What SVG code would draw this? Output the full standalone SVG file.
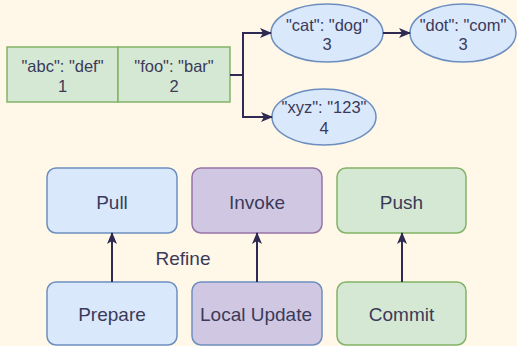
<svg xmlns="http://www.w3.org/2000/svg" width="517" height="346" viewBox="0 0 517 346">
<defs>
<style>
text{font-family:"Liberation Sans",Arial,sans-serif;fill:#3b3a5a;text-anchor:middle}
.s{font-size:16.5px}
.b{font-size:19px}
.blue{fill:#dae8fc;stroke:#6c8ebf;stroke-width:1.5}
.purp{fill:#d0c8e2;stroke:#9673a6;stroke-width:1.5}
.purpb{fill:#d0c8e2;stroke:#6c8ebf;stroke-width:1.5}
.green{fill:#d5e8d4;stroke:#82b366;stroke-width:1.5}
.c{fill:none;stroke:#2e2a52;stroke-width:2}
</style>
<marker id="ah" viewBox="0 0 12 10" refX="11" refY="5" markerWidth="12" markerHeight="10" markerUnits="userSpaceOnUse" orient="auto">
<path d="M0,0 L12,5 L0,10 L3,5 Z" fill="#2e2a52"/>
</marker>
</defs>
<rect width="517" height="346" fill="#fff7e8"/>
<g id="table">
<rect x="7" y="47" width="111" height="55" fill="#d5e8d4" stroke="#82b366" stroke-width="1.5"/>
<rect x="118" y="47" width="112" height="55" fill="#d5e8d4" stroke="#82b366" stroke-width="1.5"/>
<text class="s" x="62.5" y="72">"abc": "def"</text>
<text class="s" x="62.5" y="92">1</text>
<text class="s" x="174" y="72">"foo": "bar"</text>
<text class="s" x="174" y="92">2</text>
</g>
<g id="cat">
<ellipse cx="327" cy="33" rx="56" ry="29" class="blue"/>
<text class="s" x="327" y="31">"cat": "dog"</text>
<text class="s" x="327" y="50">3</text>
</g>
<g id="dot">
<ellipse cx="463" cy="33" rx="53" ry="29" class="blue"/>
<text class="s" x="463" y="31">"dot": "com"</text>
<text class="s" x="463" y="50">3</text>
</g>
<g id="xyz">
<ellipse cx="324" cy="117" rx="52" ry="28" class="blue"/>
<text class="s" x="324" y="113">"xyz": "123"</text>
<text class="s" x="324" y="134">4</text>
</g>
<g id="pull">
<rect x="47" y="168" width="130" height="65" rx="9" class="blue"/>
<text class="b" x="112" y="209">Pull</text>
</g>
<g id="invoke">
<rect x="192" y="168" width="130" height="65" rx="9" class="purp"/>
<text class="b" x="257" y="209">Invoke</text>
</g>
<g id="push">
<rect x="337" y="168" width="129" height="65" rx="9" class="green"/>
<text class="b" x="401.5" y="209">Push</text>
</g>
<g id="prepare">
<rect x="47" y="282" width="130" height="63" rx="9" class="blue"/>
<text class="b" x="112" y="321">Prepare</text>
</g>
<g id="localupdate">
<rect x="192" y="282" width="130" height="63" rx="9" class="purpb"/>
<text class="b" x="256" y="321">Local Update</text>
</g>
<g id="commit">
<rect x="337" y="282" width="129" height="63" rx="9" class="green"/>
<text class="b" x="401.5" y="321">Commit</text>
</g>
<g id="label-refine">
<text class="b" x="183" y="265">Refine</text>
</g>
<g id="connectors">
<path class="c" d="M230,75 H243 V33 H271" marker-end="url(#ah)"/>
<path class="c" d="M243,75 V117 H272" marker-end="url(#ah)"/>
<path class="c" d="M383,33 H410" marker-end="url(#ah)"/>
<path class="c" d="M112,282 V233" marker-end="url(#ah)"/>
<path class="c" d="M257,282 V233" marker-end="url(#ah)"/>
<path class="c" d="M402,282 V233" marker-end="url(#ah)"/>
</g>
</svg>
